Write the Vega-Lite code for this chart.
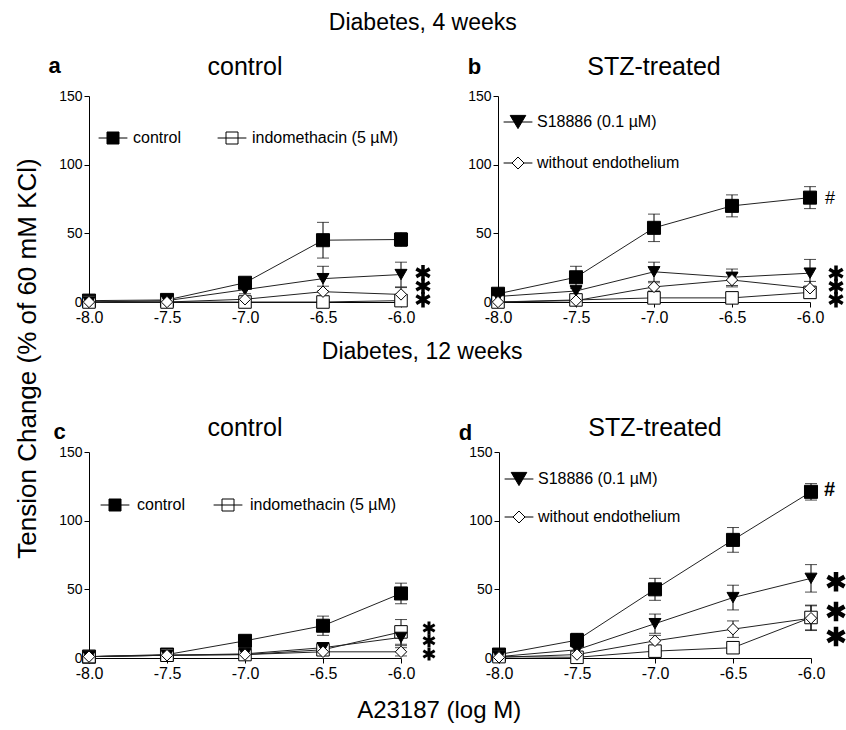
{
  "$schema": "https://vega.github.io/schema/vega-lite/v6.json",
  "padding": {"left": 14, "top": 12, "right": 2, "bottom": 2},
  "background": "white",
  "config": {
    "font": "Liberation Sans",
    "view": {"stroke": null},
    "axis": {"grid": false, "domainColor": "#000", "tickColor": "#000", "labelColor": "#000", "tickSize": 5, "labelPadding": 2, "titleColor": "#000"},
    "axisX": {"labelFontSize": 16, "labelFlush": false},
    "axisY": {"labelFontSize": 14},
    "title": {"fontSize": 24, "fontWeight": "normal", "color": "#000"},
    "legend": {"labelFontSize": 16, "labelColor": "#000", "padding": 0, "symbolStrokeColor": "#000", "symbolStrokeWidth": 1, "symbolSize": 144}
  },
  "datasets": {
    "pts": [
      {"p":"a","s":"control","x":-8,"y":1,"e":0},{"p":"a","s":"control","x":-7.5,"y":1.5,"e":1},{"p":"a","s":"control","x":-7,"y":14,"e":3},{"p":"a","s":"control","x":-6.5,"y":45,"e":13},{"p":"a","s":"control","x":-6,"y":45.5,"e":5},
      {"p":"a","s":"indomethacin (5 µM)","x":-8,"y":0,"e":0},{"p":"a","s":"indomethacin (5 µM)","x":-7.5,"y":0,"e":0},{"p":"a","s":"indomethacin (5 µM)","x":-7,"y":0,"e":0},{"p":"a","s":"indomethacin (5 µM)","x":-6.5,"y":0,"e":0},{"p":"a","s":"indomethacin (5 µM)","x":-6,"y":1,"e":3},
      {"p":"a","s":"S18886 (0.1 µM)","x":-8,"y":0,"e":0},{"p":"a","s":"S18886 (0.1 µM)","x":-7.5,"y":1,"e":0},{"p":"a","s":"S18886 (0.1 µM)","x":-7,"y":9,"e":3},{"p":"a","s":"S18886 (0.1 µM)","x":-6.5,"y":17,"e":9},{"p":"a","s":"S18886 (0.1 µM)","x":-6,"y":20,"e":9},
      {"p":"a","s":"without endothelium","x":-8,"y":0,"e":0},{"p":"a","s":"without endothelium","x":-7.5,"y":0,"e":0},{"p":"a","s":"without endothelium","x":-7,"y":2,"e":2},{"p":"a","s":"without endothelium","x":-6.5,"y":7.5,"e":4},{"p":"a","s":"without endothelium","x":-6,"y":5.5,"e":5},

      {"p":"b","s":"control","x":-8,"y":6,"e":0},{"p":"b","s":"control","x":-7.5,"y":18,"e":8},{"p":"b","s":"control","x":-7,"y":54,"e":10},{"p":"b","s":"control","x":-6.5,"y":70,"e":8},{"p":"b","s":"control","x":-6,"y":76,"e":8},
      {"p":"b","s":"indomethacin (5 µM)","x":-8,"y":0,"e":0},{"p":"b","s":"indomethacin (5 µM)","x":-7.5,"y":1.5,"e":4},{"p":"b","s":"indomethacin (5 µM)","x":-7,"y":3,"e":2},{"p":"b","s":"indomethacin (5 µM)","x":-6.5,"y":3,"e":4},{"p":"b","s":"indomethacin (5 µM)","x":-6,"y":7,"e":3},
      {"p":"b","s":"S18886 (0.1 µM)","x":-8,"y":4,"e":0},{"p":"b","s":"S18886 (0.1 µM)","x":-7.5,"y":8,"e":4},{"p":"b","s":"S18886 (0.1 µM)","x":-7,"y":22,"e":7},{"p":"b","s":"S18886 (0.1 µM)","x":-6.5,"y":18,"e":6},{"p":"b","s":"S18886 (0.1 µM)","x":-6,"y":21,"e":10},
      {"p":"b","s":"without endothelium","x":-8,"y":0,"e":0},{"p":"b","s":"without endothelium","x":-7.5,"y":1,"e":2},{"p":"b","s":"without endothelium","x":-7,"y":11,"e":3},{"p":"b","s":"without endothelium","x":-6.5,"y":16,"e":5},{"p":"b","s":"without endothelium","x":-6,"y":10,"e":5},

      {"p":"c","s":"control","x":-8,"y":1,"e":2},{"p":"c","s":"control","x":-7.5,"y":2.5,"e":2},{"p":"c","s":"control","x":-7,"y":12.5,"e":4},{"p":"c","s":"control","x":-6.5,"y":23.5,"e":7},{"p":"c","s":"control","x":-6,"y":47,"e":7.5},
      {"p":"c","s":"indomethacin (5 µM)","x":-8,"y":1,"e":0},{"p":"c","s":"indomethacin (5 µM)","x":-7.5,"y":2,"e":0},{"p":"c","s":"indomethacin (5 µM)","x":-7,"y":2.5,"e":0},{"p":"c","s":"indomethacin (5 µM)","x":-6.5,"y":6,"e":2},{"p":"c","s":"indomethacin (5 µM)","x":-6,"y":19,"e":9},
      {"p":"c","s":"S18886 (0.1 µM)","x":-8,"y":1,"e":0},{"p":"c","s":"S18886 (0.1 µM)","x":-7.5,"y":2,"e":0},{"p":"c","s":"S18886 (0.1 µM)","x":-7,"y":3,"e":0},{"p":"c","s":"S18886 (0.1 µM)","x":-6.5,"y":7.5,"e":2},{"p":"c","s":"S18886 (0.1 µM)","x":-6,"y":15,"e":6},
      {"p":"c","s":"without endothelium","x":-8,"y":1,"e":0},{"p":"c","s":"without endothelium","x":-7.5,"y":2,"e":0},{"p":"c","s":"without endothelium","x":-7,"y":2.5,"e":0},{"p":"c","s":"without endothelium","x":-6.5,"y":4.5,"e":2},{"p":"c","s":"without endothelium","x":-6,"y":4.5,"e":3},

      {"p":"d","s":"control","x":-8,"y":2.5,"e":1},{"p":"d","s":"control","x":-7.5,"y":13,"e":5},{"p":"d","s":"control","x":-7,"y":50,"e":8},{"p":"d","s":"control","x":-6.5,"y":86,"e":9},{"p":"d","s":"control","x":-6,"y":121,"e":6},
      {"p":"d","s":"indomethacin (5 µM)","x":-8,"y":1,"e":0},{"p":"d","s":"indomethacin (5 µM)","x":-7.5,"y":0.5,"e":0},{"p":"d","s":"indomethacin (5 µM)","x":-7,"y":5,"e":4},{"p":"d","s":"indomethacin (5 µM)","x":-6.5,"y":7.5,"e":3},{"p":"d","s":"indomethacin (5 µM)","x":-6,"y":29.5,"e":9},
      {"p":"d","s":"S18886 (0.1 µM)","x":-8,"y":1,"e":0},{"p":"d","s":"S18886 (0.1 µM)","x":-7.5,"y":6,"e":3},{"p":"d","s":"S18886 (0.1 µM)","x":-7,"y":25,"e":7},{"p":"d","s":"S18886 (0.1 µM)","x":-6.5,"y":44,"e":9},{"p":"d","s":"S18886 (0.1 µM)","x":-6,"y":58,"e":10},
      {"p":"d","s":"without endothelium","x":-8,"y":0.5,"e":0},{"p":"d","s":"without endothelium","x":-7.5,"y":2.5,"e":2},{"p":"d","s":"without endothelium","x":-7,"y":12.5,"e":4},{"p":"d","s":"without endothelium","x":-6.5,"y":21,"e":6},{"p":"d","s":"without endothelium","x":-6,"y":29,"e":9}
    ],
    "stars": [
      {"p":"a","x":-6,"y":21.3},{"p":"a","x":-6,"y":11.5},{"p":"a","x":-6,"y":1.7},
      {"p":"b","x":-6,"y":21},{"p":"b","x":-6,"y":11.3},{"p":"b","x":-6,"y":1.7},
      {"p":"c","x":-6,"y":21.8},{"p":"c","x":-6,"y":12.6},{"p":"c","x":-6,"y":2.9},
      {"p":"d","x":-6,"y":55.6},{"p":"d","x":-6,"y":33.9},{"p":"d","x":-6,"y":15.7}
    ],
    "hash": [
      {"p":"b","x":-6,"y":75,"t":"#"},
      {"p":"d","x":-6,"y":122,"t":"#"}
    ]
  },
  "title": {"text": "A23187 (log M)", "orient": "bottom", "anchor": "middle", "offset": 18, "dx": 5},
  "resolve": {"scale": {"shape": "independent", "fill": "independent", "size": "independent"}},
  "vconcat": [
    {
      "title": {"text": "Tension Change (% of 60 mM KCl)", "orient": "left", "anchor": "middle", "offset": 7, "fontSize": 26, "dx": -12},
      "resolve": {"scale": {"shape": "independent", "fill": "independent", "size": "independent"}},
      "spacing": 16,
      "vconcat": [
        {
          "title": {"text": "Diabetes, 4 weeks", "anchor": "middle", "offset": 19, "dx": -26, "fontSize": 23},
          "resolve": {"scale": {"shape": "independent", "fill": "independent", "size": "independent"}},
          "spacing": 30,
          "hconcat": [
            {
              "width": 312, "height": 206,
              "title": {"text": "control", "frame": "group", "anchor": "middle", "offset": -26, "fontSize": 25},
              "resolve": {"scale": {"shape": "independent", "fill": "independent", "size": "independent"}},
              "encoding": {
                "x": {"field":"x","type":"quantitative","scale":{"domain":[-8,-6]},"axis":{"values":[-8,-7.5,-7,-6.5,-6],"labelExpr":"(datum.value < 0 ? '-' : '') + format(abs(datum.value), '.1f')","title":null}},
                "y": {"field":"y","type":"quantitative","scale":{"domain":[0,150]},"axis":{"values":[0,50,100,150],"title":"a","titleAngle":0,"titleFontWeight":"bold","titleFontSize":22,"titleAlign":"center","titleBaseline":"alphabetic","titleX":-35,"titleY":-24}}
              },
              "layer": [
                {"data":{"name":"pts"},"transform":[{"filter":"datum.p === 'a'"}],"mark":{"type":"line","color":"#222","strokeWidth":1},"encoding":{"detail":{"field":"s"}}},
                {"data":{"name":"pts"},"transform":[{"filter":"datum.p === 'a' && datum.e > 0"}],"mark":{"type":"errorbar","ticks":{"size":12},"color":"#000","thickness":1},"encoding":{"yError":{"field":"e"}}},
                {"data":{"name":"pts"},"transform":[{"filter":"datum.p === 'a'"}],"mark":{"type":"point","filled":true,"stroke":"#000","strokeWidth":1,"opacity":1},
                 "encoding":{
                   "shape":{"field":"s","type":"nominal","scale":{"domain":["without endothelium","S18886 (0.1 µM)","indomethacin (5 µM)","control"],"range":["diamond","triangle-down","square","square"]},"legend":null},
                   "fill":{"field":"s","type":"nominal","scale":{"domain":["without endothelium","S18886 (0.1 µM)","indomethacin (5 µM)","control"],"range":["#fff","#000","#fff","#000"]},"legend":null},
                   "size":{"field":"s","type":"nominal","scale":{"domain":["without endothelium","S18886 (0.1 µM)","indomethacin (5 µM)","control"],"range":[130,170,110,165]},"legend":null}
                 }},
                {"data":{"name":"pts"},"transform":[{"filter":"datum.p === 'none'"}],"mark":{"type":"point","filled":true,"stroke":"#000","strokeWidth":1,"opacity":1},
                 "encoding":{
                   "shape":{"field":"s","type":"nominal","scale":{"domain":["control","indomethacin (5 µM)","S18886 (0.1 µM)","without endothelium"],"range":["M-2.4,0H2.4M-1,-1H1V1H-1Z","M-2.4,0H2.4M-1,-1H1V1H-1Z","M-2.4,0H2.4M-1.3,-1.1H1.3L0,1.1Z","M-2.4,0H-1M1,0H2.4M0,-1L1,0L0,1L-1,0Z"]},
                     "legend":{"values":["control","indomethacin (5 µM)"],"orient":"none","legendX":16,"legendY":34,"direction":"horizontal","title":null,"labelOffset":12,"columnPadding":33,
                       "encoding":{"symbols":{"stroke":{"value":"#000"},"strokeWidth":{"value":1}}}}},
                   "fill":{"field":"s","type":"nominal","scale":{"domain":["control","indomethacin (5 µM)","S18886 (0.1 µM)","without endothelium"],"range":["#000","#fff","#000","#fff"]},
                     "legend":{"values":["control","indomethacin (5 µM)"],"orient":"none","legendX":16,"legendY":34,"direction":"horizontal","title":null,"labelOffset":12,"columnPadding":33,
                       "encoding":{"symbols":{"stroke":{"value":"#000"},"strokeWidth":{"value":1}}}}}
                 }},
                {"data":{"name":"stars"},"transform":[{"filter":"datum.p === 'a'"}],"mark":{"type":"point","shape":"M0,-1V1M-0.87,-0.5L0.87,0.5M-0.87,0.5L0.87,-0.5","filled":false,"stroke":"#000","strokeWidth":3.5,"size":240,"xOffset":22,"opacity":1}}
              ]
            },
            {
              "width": 312, "height": 206,
              "title": {"text": "STZ-treated", "frame": "group", "anchor": "middle", "offset": -25, "fontSize": 25},
              "resolve": {"scale": {"shape": "independent", "fill": "independent", "size": "independent"}},
              "encoding": {
                "x": {"field":"x","type":"quantitative","scale":{"domain":[-8,-6]},"axis":{"values":[-8,-7.5,-7,-6.5,-6],"labelExpr":"(datum.value < 0 ? '-' : '') + format(abs(datum.value), '.1f')","title":null}},
                "y": {"field":"y","type":"quantitative","scale":{"domain":[0,150]},"axis":{"values":[0,50,100,150],"title":"b","titleAngle":0,"titleFontWeight":"bold","titleFontSize":22,"titleAlign":"center","titleBaseline":"alphabetic","titleX":-24,"titleY":-23}}
              },
              "layer": [
                {"data":{"name":"pts"},"transform":[{"filter":"datum.p === 'b'"}],"mark":{"type":"line","color":"#222","strokeWidth":1},"encoding":{"detail":{"field":"s"}}},
                {"data":{"name":"pts"},"transform":[{"filter":"datum.p === 'b' && datum.e > 0"}],"mark":{"type":"errorbar","ticks":{"size":12},"color":"#000","thickness":1},"encoding":{"yError":{"field":"e"}}},
                {"data":{"name":"pts"},"transform":[{"filter":"datum.p === 'b'"}],"mark":{"type":"point","filled":true,"stroke":"#000","strokeWidth":1,"opacity":1},
                 "encoding":{
                   "shape":{"field":"s","type":"nominal","scale":{"domain":["without endothelium","S18886 (0.1 µM)","indomethacin (5 µM)","control"],"range":["diamond","triangle-down","square","square"]},"legend":null},
                   "fill":{"field":"s","type":"nominal","scale":{"domain":["without endothelium","S18886 (0.1 µM)","indomethacin (5 µM)","control"],"range":["#fff","#000","#fff","#000"]},"legend":null},
                   "size":{"field":"s","type":"nominal","scale":{"domain":["without endothelium","S18886 (0.1 µM)","indomethacin (5 µM)","control"],"range":[130,170,110,165]},"legend":null}
                 }},
                {"data":{"name":"pts"},"transform":[{"filter":"datum.p === 'none'"}],"mark":{"type":"point","filled":true,"stroke":"#000","strokeWidth":1,"opacity":1},
                 "encoding":{
                   "shape":{"field":"s","type":"nominal","scale":{"domain":["control","indomethacin (5 µM)","S18886 (0.1 µM)","without endothelium"],"range":["M-2.4,0H2.4M-1,-1H1V1H-1Z","M-2.4,0H2.4M-1,-1H1V1H-1Z","M-2.4,0H2.4M-1.3,-1.1H1.3L0,1.1Z","M-2.4,0H-1M1,0H2.4M0,-1L1,0L0,1L-1,0Z"]},
                     "legend":{"values":["S18886 (0.1 µM)","without endothelium"],"orient":"none","legendX":12,"legendY":18,"direction":"vertical","title":null,"labelOffset":11,"rowPadding":24,
                       "encoding":{"symbols":{"stroke":{"value":"#000"},"strokeWidth":{"value":1}}}}},
                   "fill":{"field":"s","type":"nominal","scale":{"domain":["control","indomethacin (5 µM)","S18886 (0.1 µM)","without endothelium"],"range":["#000","#fff","#000","#fff"]},
                     "legend":{"values":["S18886 (0.1 µM)","without endothelium"],"orient":"none","legendX":12,"legendY":18,"direction":"vertical","title":null,"labelOffset":11,"rowPadding":24,
                       "encoding":{"symbols":{"stroke":{"value":"#000"},"strokeWidth":{"value":1}}}}}
                 }},
                {"data":{"name":"stars"},"transform":[{"filter":"datum.p === 'b'"}],"mark":{"type":"point","shape":"M0,-1V1M-0.87,-0.5L0.87,0.5M-0.87,0.5L0.87,-0.5","filled":false,"stroke":"#000","strokeWidth":3.5,"size":240,"xOffset":26,"opacity":1}},
                {"data":{"name":"hash"},"transform":[{"filter":"datum.p === 'b'"}],"mark":{"type":"text","align":"left","baseline":"middle","dx":15,"fontSize":18,"color":"#000"},"encoding":{"text":{"field":"t"}}}
              ]
            }
          ]
        },
        {
          "title": {"text": "Diabetes, 12 weeks", "anchor": "middle", "offset": 52, "dx": -31, "fontSize": 23},
          "resolve": {"scale": {"shape": "independent", "fill": "independent", "size": "independent"}},
          "spacing": 17,
          "hconcat": [
            {
              "width": 312, "height": 206,
              "title": {"text": "control", "frame": "group", "anchor": "middle", "offset": -21, "fontSize": 25},
              "resolve": {"scale": {"shape": "independent", "fill": "independent", "size": "independent"}},
              "encoding": {
                "x": {"field":"x","type":"quantitative","scale":{"domain":[-8,-6]},"axis":{"values":[-8,-7.5,-7,-6.5,-6],"labelExpr":"(datum.value < 0 ? '-' : '') + format(abs(datum.value), '.1f')","title":null}},
                "y": {"field":"y","type":"quantitative","scale":{"domain":[0,150]},"axis":{"values":[0,50,100,150],"title":"c","titleAngle":0,"titleFontWeight":"bold","titleFontSize":22,"titleAlign":"center","titleBaseline":"alphabetic","titleX":-30,"titleY":-14}}
              },
              "layer": [
                {"data":{"name":"pts"},"transform":[{"filter":"datum.p === 'c'"}],"mark":{"type":"line","color":"#222","strokeWidth":1},"encoding":{"detail":{"field":"s"}}},
                {"data":{"name":"pts"},"transform":[{"filter":"datum.p === 'c' && datum.e > 0"}],"mark":{"type":"errorbar","ticks":{"size":12},"color":"#000","thickness":1},"encoding":{"yError":{"field":"e"}}},
                {"data":{"name":"pts"},"transform":[{"filter":"datum.p === 'c'"}],"mark":{"type":"point","filled":true,"stroke":"#000","strokeWidth":1,"opacity":1},
                 "encoding":{
                   "shape":{"field":"s","type":"nominal","scale":{"domain":["without endothelium","S18886 (0.1 µM)","indomethacin (5 µM)","control"],"range":["diamond","triangle-down","square","square"]},"legend":null},
                   "fill":{"field":"s","type":"nominal","scale":{"domain":["without endothelium","S18886 (0.1 µM)","indomethacin (5 µM)","control"],"range":["#fff","#000","#fff","#000"]},"legend":null},
                   "size":{"field":"s","type":"nominal","scale":{"domain":["without endothelium","S18886 (0.1 µM)","indomethacin (5 µM)","control"],"range":[130,170,110,165]},"legend":null}
                 }},
                {"data":{"name":"pts"},"transform":[{"filter":"datum.p === 'none'"}],"mark":{"type":"point","filled":true,"stroke":"#000","strokeWidth":1,"opacity":1},
                 "encoding":{
                   "shape":{"field":"s","type":"nominal","scale":{"domain":["control","indomethacin (5 µM)","S18886 (0.1 µM)","without endothelium"],"range":["M-2.4,0H2.4M-1,-1H1V1H-1Z","M-2.4,0H2.4M-1,-1H1V1H-1Z","M-2.4,0H2.4M-1.3,-1.1H1.3L0,1.1Z","M-2.4,0H-1M1,0H2.4M0,-1L1,0L0,1L-1,0Z"]},
                     "legend":{"values":["control","indomethacin (5 µM)"],"orient":"none","legendX":18,"legendY":45,"direction":"horizontal","title":null,"labelOffset":14,"columnPadding":25,
                       "encoding":{"symbols":{"stroke":{"value":"#000"},"strokeWidth":{"value":1}}}}},
                   "fill":{"field":"s","type":"nominal","scale":{"domain":["control","indomethacin (5 µM)","S18886 (0.1 µM)","without endothelium"],"range":["#000","#fff","#000","#fff"]},
                     "legend":{"values":["control","indomethacin (5 µM)"],"orient":"none","legendX":18,"legendY":45,"direction":"horizontal","title":null,"labelOffset":14,"columnPadding":25,
                       "encoding":{"symbols":{"stroke":{"value":"#000"},"strokeWidth":{"value":1}}}}}
                 }},
                {"data":{"name":"stars"},"transform":[{"filter":"datum.p === 'c'"}],"mark":{"type":"point","shape":"M0,-1V1M-0.87,-0.5L0.87,0.5M-0.87,0.5L0.87,-0.5","filled":false,"stroke":"#000","strokeWidth":3,"size":170,"xOffset":28,"opacity":1}}
              ]
            },
            {
              "width": 312, "height": 206,
              "title": {"text": "STZ-treated", "frame": "group", "anchor": "middle", "offset": -20, "fontSize": 25},
              "resolve": {"scale": {"shape": "independent", "fill": "independent", "size": "independent"}},
              "encoding": {
                "x": {"field":"x","type":"quantitative","scale":{"domain":[-8,-6]},"axis":{"values":[-8,-7.5,-7,-6.5,-6],"labelExpr":"(datum.value < 0 ? '-' : '') + format(abs(datum.value), '.1f')","title":null}},
                "y": {"field":"y","type":"quantitative","scale":{"domain":[0,150]},"axis":{"values":[0,50,100,150],"title":"d","titleAngle":0,"titleFontWeight":"bold","titleFontSize":22,"titleAlign":"center","titleBaseline":"alphabetic","titleX":-34,"titleY":-13}}
              },
              "layer": [
                {"data":{"name":"pts"},"transform":[{"filter":"datum.p === 'd'"}],"mark":{"type":"line","color":"#222","strokeWidth":1},"encoding":{"detail":{"field":"s"}}},
                {"data":{"name":"pts"},"transform":[{"filter":"datum.p === 'd' && datum.e > 0"}],"mark":{"type":"errorbar","ticks":{"size":12},"color":"#000","thickness":1},"encoding":{"yError":{"field":"e"}}},
                {"data":{"name":"pts"},"transform":[{"filter":"datum.p === 'd'"}],"mark":{"type":"point","filled":true,"stroke":"#000","strokeWidth":1,"opacity":1},
                 "encoding":{
                   "shape":{"field":"s","type":"nominal","scale":{"domain":["without endothelium","S18886 (0.1 µM)","indomethacin (5 µM)","control"],"range":["diamond","triangle-down","square","square"]},"legend":null},
                   "fill":{"field":"s","type":"nominal","scale":{"domain":["without endothelium","S18886 (0.1 µM)","indomethacin (5 µM)","control"],"range":["#fff","#000","#fff","#000"]},"legend":null},
                   "size":{"field":"s","type":"nominal","scale":{"domain":["without endothelium","S18886 (0.1 µM)","indomethacin (5 µM)","control"],"range":[130,170,110,165]},"legend":null}
                 }},
                {"data":{"name":"pts"},"transform":[{"filter":"datum.p === 'none'"}],"mark":{"type":"point","filled":true,"stroke":"#000","strokeWidth":1,"opacity":1},
                 "encoding":{
                   "shape":{"field":"s","type":"nominal","scale":{"domain":["control","indomethacin (5 µM)","S18886 (0.1 µM)","without endothelium"],"range":["M-2.4,0H2.4M-1,-1H1V1H-1Z","M-2.4,0H2.4M-1,-1H1V1H-1Z","M-2.4,0H2.4M-1.3,-1.1H1.3L0,1.1Z","M-2.4,0H-1M1,0H2.4M0,-1L1,0L0,1L-1,0Z"]},
                     "legend":{"values":["S18886 (0.1 µM)","without endothelium"],"orient":"none","legendX":12,"legendY":19,"direction":"vertical","title":null,"labelOffset":11,"rowPadding":21,
                       "encoding":{"symbols":{"stroke":{"value":"#000"},"strokeWidth":{"value":1}}}}},
                   "fill":{"field":"s","type":"nominal","scale":{"domain":["control","indomethacin (5 µM)","S18886 (0.1 µM)","without endothelium"],"range":["#000","#fff","#000","#fff"]},
                     "legend":{"values":["S18886 (0.1 µM)","without endothelium"],"orient":"none","legendX":12,"legendY":19,"direction":"vertical","title":null,"labelOffset":11,"rowPadding":21,
                       "encoding":{"symbols":{"stroke":{"value":"#000"},"strokeWidth":{"value":1}}}}}
                 }},
                {"data":{"name":"stars"},"transform":[{"filter":"datum.p === 'd'"}],"mark":{"type":"point","shape":"M0,-1V1M-0.87,-0.5L0.87,0.5M-0.87,0.5L0.87,-0.5","filled":false,"stroke":"#000","strokeWidth":4.5,"size":380,"xOffset":25,"opacity":1}},
                {"data":{"name":"hash"},"transform":[{"filter":"datum.p === 'd'"}],"mark":{"type":"text","align":"left","baseline":"middle","dx":13,"fontSize":20,"fontWeight":"bold","color":"#000"},"encoding":{"text":{"field":"t"}}}
              ]
            }
          ]
        }
      ]
    }
  ]
}
